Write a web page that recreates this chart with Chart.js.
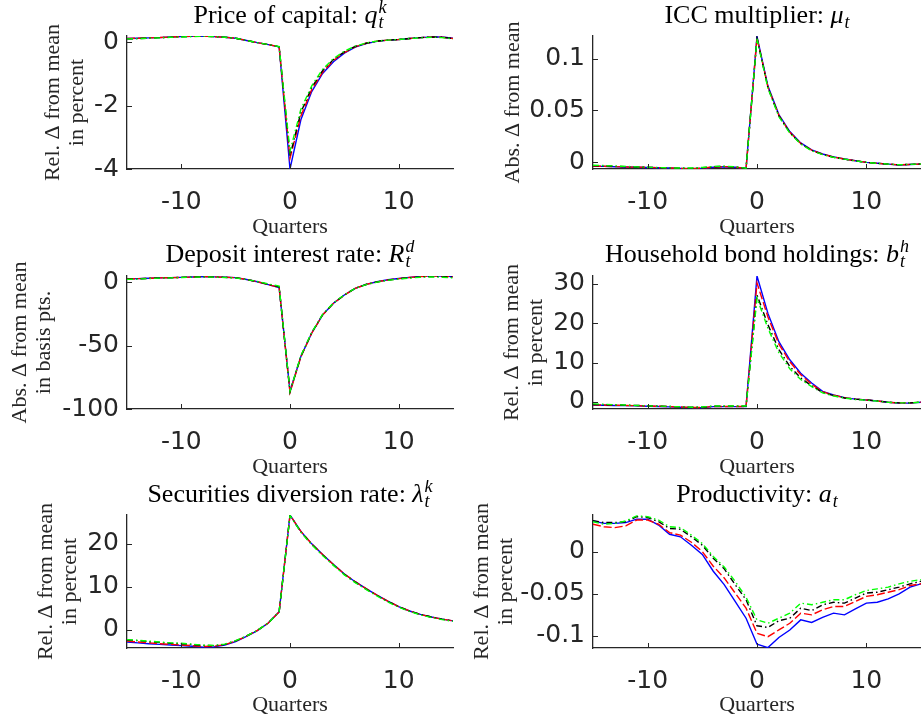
<!DOCTYPE html>
<html>
<head>
<meta charset="utf-8">
<script src="https://cdn.jsdelivr.net/npm/chart.js@4.4.0/dist/chart.umd.min.js"></script>
<style>
  html, body { margin: 0; padding: 0; background: #fff; }
  #grid { position: relative; width: 921px; height: 720px; overflow: hidden; }
  #grid canvas { position: absolute; }
</style>
</head>
<body>
<div id="grid">
  <canvas id="price" width="460" height="240" style="left:0;top:0"></canvas>
  <canvas id="icc" width="461" height="240" style="left:460px;top:0"></canvas>
  <canvas id="deposit" width="460" height="240" style="left:0;top:240px"></canvas>
  <canvas id="bonds" width="461" height="240" style="left:460px;top:240px"></canvas>
  <canvas id="securities" width="460" height="240" style="left:0;top:480px"></canvas>
  <canvas id="productivity" width="461" height="240" style="left:460px;top:480px"></canvas>
</div>
<script>
// quarters relative to the shock
const quarters = [-15, -14, -13, -12, -11, -10, -9, -8, -7, -6, -5, -4, -3, -2, -1, 0, 1, 2, 3, 4, 5, 6, 7, 8, 9, 10, 11, 12, 13, 14, 15];
const xTicks = [-10, 0, 10];

// price of capital q
const priceBlue = [0.11, 0.12, 0.13, 0.14, 0.16, 0.17, 0.18, 0.19, 0.17, 0.15, 0.12, 0.05, -0.02, -0.08, -0.15, -4.00, -2.45, -1.56, -0.99, -0.62, -0.35, -0.16, -0.05, 0.02, 0.06, 0.08, 0.11, 0.14, 0.16, 0.16, 0.12];
const priceRed = [0.11, 0.12, 0.13, 0.14, 0.16, 0.17, 0.18, 0.19, 0.17, 0.15, 0.12, 0.05, -0.02, -0.08, -0.15, -3.66, -2.33, -1.50, -0.95, -0.58, -0.33, -0.15, -0.04, 0.03, 0.06, 0.08, 0.11, 0.14, 0.16, 0.15, 0.11];
const priceBlack = [0.10, 0.11, 0.12, 0.14, 0.15, 0.17, 0.18, 0.19, 0.17, 0.15, 0.12, 0.05, -0.02, -0.08, -0.15, -3.58, -2.22, -1.43, -0.90, -0.55, -0.31, -0.14, -0.04, 0.03, 0.06, 0.08, 0.11, 0.14, 0.16, 0.15, 0.11];
const priceGreen = [0.10, 0.11, 0.12, 0.13, 0.15, 0.16, 0.17, 0.18, 0.17, 0.15, 0.12, 0.05, -0.02, -0.08, -0.14, -3.44, -2.12, -1.38, -0.86, -0.52, -0.29, -0.13, -0.03, 0.03, 0.06, 0.08, 0.11, 0.13, 0.15, 0.14, 0.10];
const priceTicks = [-4, -2, 0];

// ICC multiplier mu
const iccBlue = [-0.0040, -0.0042, -0.0045, -0.0048, -0.0050, -0.0052, -0.0055, -0.0058, -0.0062, -0.0065, -0.0060, -0.0050, -0.0045, -0.0050, -0.0062, 0.1215, 0.0735, 0.0460, 0.0295, 0.0185, 0.0118, 0.0078, 0.0050, 0.0030, 0.0013, -0.0003, -0.0012, -0.0020, -0.0028, -0.0024, -0.0020];
const iccRed = [-0.0038, -0.0041, -0.0044, -0.0047, -0.0049, -0.0051, -0.0054, -0.0057, -0.0061, -0.0064, -0.0058, -0.0048, -0.0044, -0.0049, -0.0062, 0.1205, 0.0725, 0.0452, 0.0289, 0.0181, 0.0115, 0.0076, 0.0049, 0.0029, 0.0013, -0.0003, -0.0012, -0.0020, -0.0027, -0.0023, -0.0019];
const iccBlack = [-0.0034, -0.0037, -0.0041, -0.0045, -0.0048, -0.0051, -0.0054, -0.0057, -0.0060, -0.0061, -0.0055, -0.0045, -0.0042, -0.0048, -0.0061, 0.1200, 0.0720, 0.0447, 0.0285, 0.0178, 0.0113, 0.0074, 0.0047, 0.0028, 0.0012, -0.0003, -0.0012, -0.0020, -0.0026, -0.0022, -0.0018];
const iccGreen = [-0.0030, -0.0034, -0.0038, -0.0042, -0.0046, -0.0050, -0.0053, -0.0056, -0.0058, -0.0058, -0.0052, -0.0042, -0.0040, -0.0046, -0.0060, 0.1195, 0.0715, 0.0440, 0.0280, 0.0175, 0.0110, 0.0072, 0.0046, 0.0028, 0.0012, -0.0003, -0.0012, -0.0020, -0.0026, -0.0022, -0.0018];
const iccTicks = [0, 0.05, 0.1];

// deposit interest rate R^d (basis points)
const depositBlue = [2.6, 2.9, 3.2, 3.5, 3.7, 3.9, 4.2, 4.5, 4.3, 4.0, 3.7, 2.2, 0.5, -1.8, -4.2, -86.0, -58.5, -40.0, -25.7, -16.5, -10.0, -4.7, -1.6, 0.5, 2.0, 3.0, 3.9, 4.8, 5.2, 5.0, 4.5];
const depositRed = [2.6, 2.9, 3.2, 3.5, 3.7, 3.9, 4.2, 4.5, 4.3, 4.0, 3.7, 2.2, 0.5, -1.8, -4.0, -87.0, -58.8, -40.2, -25.8, -16.6, -10.1, -4.8, -1.7, 0.4, 1.9, 2.9, 3.8, 4.6, 5.0, 4.8, 4.3];
const depositBlack = [2.5, 2.8, 3.1, 3.4, 3.6, 3.9, 4.2, 4.4, 4.2, 3.9, 3.6, 2.2, 0.6, -1.6, -3.6, -86.4, -58.3, -39.8, -25.6, -16.4, -10.0, -4.8, -1.7, 0.3, 1.8, 2.8, 3.6, 4.3, 4.7, 4.4, 4.0];
const depositGreen = [2.3, 2.6, 3.0, 3.3, 3.5, 3.8, 4.1, 4.3, 4.1, 3.8, 3.5, 2.2, 0.7, -1.3, -3.0, -86.0, -58.0, -39.6, -25.4, -16.3, -9.9, -4.8, -1.8, 0.2, 1.6, 2.6, 3.4, 4.0, 4.3, 4.0, 3.5];
const depositTicks = [-100, -50, 0];

// household bond holdings b^h
const bondsBlue = [-0.8, -0.85, -0.9, -0.95, -1.0, -1.1, -1.15, -1.25, -1.35, -1.45, -1.45, -1.2, -1.2, -1.2, -1.2, 32.0, 22.5, 15.3, 10.7, 7.3, 4.8, 2.7, 1.8, 1.1, 0.7, 0.5, 0.25, -0.1, -0.3, -0.3, -0.1];
const bondsRed = [-0.75, -0.8, -0.85, -0.9, -0.95, -1.05, -1.1, -1.2, -1.3, -1.4, -1.4, -1.15, -1.15, -1.15, -1.15, 30.2, 21.6, 14.7, 10.2, 6.9, 4.5, 2.6, 1.7, 1.1, 0.7, 0.5, 0.25, -0.1, -0.25, -0.25, -0.05];
const bondsBlack = [-0.65, -0.7, -0.75, -0.85, -0.9, -1.0, -1.05, -1.15, -1.25, -1.35, -1.35, -1.1, -1.1, -1.1, -1.1, 27.2, 19.6, 13.3, 9.0, 6.1, 4.1, 2.4, 1.6, 1.0, 0.7, 0.5, 0.25, -0.1, -0.25, -0.25, -0.05];
const bondsGreen = [-0.5, -0.6, -0.7, -0.8, -0.9, -1.0, -1.05, -1.15, -1.25, -1.35, -1.3, -1.05, -1.05, -1.05, -1.05, 26.4, 18.7, 12.5, 8.4, 5.7, 3.9, 2.3, 1.5, 1.0, 0.6, 0.45, 0.2, -0.1, -0.25, -0.25, -0.05];
const bondsTicks = [0, 10, 20, 30];

// securities diversion rate lambda^k
const secBlue = [-2.8, -3.0, -3.2, -3.35, -3.5, -3.65, -3.8, -4.0, -3.95, -3.5, -2.7, -1.5, -0.15, 1.6, 4.2, 26.7, 22.9, 20.0, 17.5, 15.2, 13.0, 11.2, 9.6, 8.1, 6.7, 5.4, 4.4, 3.6, 3.0, 2.5, 2.1];
const secRed = [-2.6, -2.8, -3.0, -3.2, -3.35, -3.5, -3.65, -3.85, -3.8, -3.4, -2.6, -1.45, -0.12, 1.6, 4.2, 26.7, 22.9, 20.0, 17.5, 15.2, 13.0, 11.2, 9.6, 8.1, 6.7, 5.4, 4.4, 3.6, 3.0, 2.5, 2.1];
const secBlack = [-2.35, -2.5, -2.7, -2.9, -3.1, -3.2, -3.4, -3.6, -3.65, -3.35, -2.55, -1.42, -0.1, 1.6, 4.2, 26.6, 22.8, 19.9, 17.4, 15.1, 12.9, 11.1, 9.5, 8.0, 6.6, 5.4, 4.4, 3.6, 3.0, 2.5, 2.1];
const secGreen = [-2.25, -2.4, -2.6, -2.8, -3.0, -3.1, -3.3, -3.55, -3.6, -3.3, -2.5, -1.4, -0.1, 1.6, 4.2, 26.6, 22.7, 19.8, 17.3, 15.0, 12.8, 11.0, 9.4, 7.9, 6.5, 5.3, 4.3, 3.5, 2.9, 2.4, 2.0];
const secTicks = [0, 10, 20];

// productivity a
const prodBlue = [0.0369, 0.034, 0.034, 0.035, 0.039, 0.039, 0.032, 0.021, 0.018, 0.008, -0.003, -0.023, -0.039, -0.059, -0.079, -0.110, -0.114, -0.102, -0.093, -0.081, -0.084, -0.078, -0.073, -0.075, -0.068, -0.061, -0.060, -0.056, -0.050, -0.042, -0.038];
const prodRed = [0.033, 0.030, 0.029, 0.031, 0.038, 0.038, 0.033, 0.023, 0.020, 0.0115, 0.0004, -0.017, -0.031, -0.049, -0.067, -0.097, -0.101, -0.093, -0.085, -0.073, -0.075, -0.069, -0.065, -0.065, -0.059, -0.053, -0.051, -0.048, -0.045, -0.040, -0.038];
const prodBlack = [0.0373, 0.035, 0.035, 0.036, 0.042, 0.041, 0.036, 0.028, 0.027, 0.018, 0.008, -0.0075, -0.020, -0.039, -0.057, -0.088, -0.090, -0.082, -0.079, -0.067, -0.070, -0.063, -0.060, -0.061, -0.055, -0.049, -0.048, -0.045, -0.042, -0.038, -0.035];
const prodGreen = [0.036, 0.033, 0.034, 0.037, 0.043, 0.042, 0.038, 0.030, 0.029, 0.020, 0.010, -0.0055, -0.018, -0.035, -0.054, -0.081, -0.085, -0.079, -0.073, -0.061, -0.063, -0.060, -0.057, -0.057, -0.051, -0.046, -0.044, -0.042, -0.038, -0.035, -0.033];
const prodTicks = [-0.1, -0.05, 0];

const axisColor = '#262626';
const serif = '"Liberation Serif", "Times New Roman", serif';
const sans = '"DejaVu Sans", sans-serif';

// title with an italic math symbol plus sub/superscript
const mathTitle = {
  id: 'mathTitle',
  afterDraw(chart, args, opts) {
    const { ctx, chartArea } = chart;
    const big = '26px ' + serif, it = 'italic 26px ' + serif, small = 'italic 18px ' + serif;
    ctx.save();
    ctx.font = big; const w1 = ctx.measureText(opts.text).width;
    ctx.font = it; const w2 = ctx.measureText(opts.symbol).width;
    ctx.font = small;
    const w3 = Math.max(ctx.measureText(opts.sub || '').width, ctx.measureText(opts.sup || '').width);
    let x = (chartArea.left + chartArea.right) / 2 - (w1 + w2 + 1 + w3) / 2;
    const y = opts.baseline;
    ctx.fillStyle = '#000';
    ctx.textAlign = 'left';
    ctx.textBaseline = 'alphabetic';
    ctx.font = big; ctx.fillText(opts.text, x, y); x += w1;
    ctx.font = it; ctx.fillText(opts.symbol, x, y); x += w2 + 1;
    ctx.font = small;
    if (opts.sub) ctx.fillText(opts.sub, x, y + 5);
    if (opts.sup) ctx.fillText(opts.sup, x, y - 10);
    ctx.restore();
  }
};

// matlab style inward tick marks
const innerTicks = {
  id: 'innerTicks',
  afterDraw(chart) {
    const { ctx, chartArea, scales } = chart;
    ctx.save();
    ctx.strokeStyle = axisColor;
    ctx.lineWidth = 1;
    ctx.beginPath();
    scales.x.ticks.forEach(t => {
      const px = Math.round(scales.x.getPixelForValue(t.value)) + 0.5;
      ctx.moveTo(px, chartArea.bottom);
      ctx.lineTo(px, chartArea.bottom - 5);
    });
    scales.y.ticks.forEach(t => {
      const py = Math.round(scales.y.getPixelForValue(t.value)) + 0.5;
      ctx.moveTo(chartArea.left, py);
      ctx.lineTo(chartArea.left + 5, py);
    });
    ctx.stroke();
    ctx.restore();
  }
};

function makePanel(id, p) {
  const series = [
    { data: p.blue, color: '#0000ff', dash: [], order: 4 },
    { data: p.red, color: '#ff0000', dash: [8, 3], order: 3 },
    { data: p.black, color: '#000000', dash: [6, 3, 1.5, 3], order: 2 },
    { data: p.green, color: '#00ff00', dash: [6, 3, 1.5, 3], order: 1 }
  ];
  new Chart(document.getElementById(id), {
    type: 'line',
    data: {
      datasets: series.map(s => ({
        data: quarters.map((q, i) => ({ x: q, y: s.data[i] })),
        borderColor: s.color,
        borderWidth: 1.4,
        borderDash: s.dash,
        pointRadius: 0,
        fill: false,
        tension: 0,
        order: s.order
      }))
    },
    options: {
      responsive: false,
      animation: false,
      layout: { padding: { top: p.top, right: p.right, left: 0, bottom: 0 } },
      plugins: {
        legend: { display: false },
        tooltip: { enabled: false },
        mathTitle: p.title
      },
      scales: {
        x: {
          type: 'linear',
          min: -15,
          max: 15,
          afterBuildTicks: s => { s.ticks = xTicks.map(v => ({ value: v })); },
          afterFit: s => { s.height = 240 - p.top - 133; },
          grid: { display: false, drawTicks: false },
          border: { display: true, color: axisColor, width: 1.3 },
          ticks: { color: axisColor, padding: 18, font: { family: sans, size: 25 } },
          title: {
            display: true, text: 'Quarters', color: axisColor,
            font: { family: serif, size: 22, lineHeight: 1.2 },
            padding: { top: 0, bottom: p.qPad }
          }
        },
        y: {
          type: 'linear',
          min: p.min,
          max: p.max,
          afterBuildTicks: s => { s.ticks = p.ticks.map(v => ({ value: v })); },
          afterFit: s => { s.width = p.yWidth; },
          grid: { display: false, drawTicks: false },
          border: { display: true, color: axisColor, width: 1.3 },
          ticks: {
            color: axisColor, padding: 8, font: { family: sans, size: 25 },
            callback: v => String(+v.toFixed(4))
          },
          title: {
            display: true, text: p.ylabel, color: axisColor,
            font: { family: serif, size: 22, lineHeight: 1.1 },
            padding: { top: p.yPad, bottom: 0 }
          }
        }
      }
    },
    plugins: [mathTitle, innerTicks]
  });
}

makePanel('price', {
  blue: priceBlue, red: priceRed, black: priceBlack, green: priceGreen,
  min: -4, max: 0.19, ticks: priceTicks, top: 36, right: 7, yWidth: 127, qPad: 0, yPad: 41,
  ylabel: ['Rel. \u0394 from mean', 'in percent'],
  title: { text: 'Price of capital: ', symbol: 'q', sub: 't', sup: 'k', baseline: 23 }
});
makePanel('icc', {
  blue: iccBlue, red: iccRed, black: iccBlack, green: iccGreen,
  min: -0.0067, max: 0.122, ticks: iccTicks, top: 36, right: 0, yWidth: 133, qPad: 0, yPad: 41,
  ylabel: 'Abs. \u0394 from mean',
  title: { text: 'ICC multiplier: ', symbol: '\u03bc', sub: 't', baseline: 23 }
});
makePanel('deposit', {
  blue: depositBlue, red: depositRed, black: depositBlack, green: depositGreen,
  min: -100, max: 5, ticks: depositTicks, top: 36, right: 7, yWidth: 127, qPad: 0, yPad: 8,
  ylabel: ['Abs. \u0394 from mean', 'in basis pts.'],
  title: { text: 'Deposit interest rate: ', symbol: 'R', sub: 't', sup: 'd', baseline: 22 }
});
makePanel('bonds', {
  blue: bondsBlue, red: bondsRed, black: bondsBlack, green: bondsGreen,
  min: -1.8, max: 32, ticks: bondsTicks, top: 36, right: 0, yWidth: 133, qPad: 0, yPad: 40,
  ylabel: ['Rel. \u0394 from mean', 'in percent'],
  title: { text: 'Household bond holdings: ', symbol: 'b', sub: 't', sup: 'h', baseline: 22 }
});
makePanel('securities', {
  blue: secBlue, red: secRed, black: secBlack, green: secGreen,
  min: -4.2, max: 26.7, ticks: secTicks, top: 35, right: 7, yWidth: 127, qPad: 2, yPad: 34,
  ylabel: ['Rel. \u0394 from mean', 'in percent'],
  title: { text: 'Securities diversion rate: ', symbol: '\u03bb', sub: 't', sup: 'k', baseline: 22 }
});
makePanel('productivity', {
  blue: prodBlue, red: prodRed, black: prodBlack, green: prodGreen,
  min: -0.1145, max: 0.044, ticks: prodTicks, top: 35, right: 0, yWidth: 133, qPad: 2, yPad: 10,
  ylabel: ['Rel. \u0394 from mean', 'in percent'],
  title: { text: 'Productivity: ', symbol: 'a', sub: 't', baseline: 22 }
});
</script>
</body>
</html>
